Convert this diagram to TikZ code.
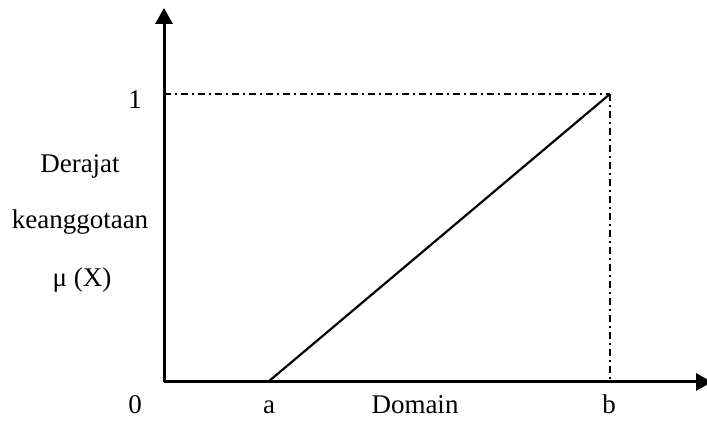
\documentclass[tikz,border=0pt]{standalone}
\usepackage{fontspec}
\setmainfont{Liberation Serif}
\usetikzlibrary{arrows.meta}

\begin{document}
\begin{tikzpicture}[x=0.5pt, y=0.5pt, line width=1.1pt,
  axis/.style={-{Triangle[length=8pt,width=8.5pt]}, line width=1.5pt},
  helpline/.style={line width=0.7pt, dash pattern=on 3.5pt off 2pt on 1pt off 2pt},
  lbl/.style={anchor=base, inner sep=0pt, font=\fontsize{13.5}{16}\selectfont}]
\useasboundingbox (0,0) rectangle (707,421);
\coordinate (O) at (164,39);
\coordinate (ytop) at (164,413);
\coordinate (xend) at (712,39);
\coordinate (one) at (164,327);
\coordinate (b) at (610,327);
\coordinate (bfoot) at (610,39);
\coordinate (a) at (268,39);

\draw [helpline] (one) -- (b);
\draw [helpline] (b) -- (bfoot);
\draw (a) -- (b);
\draw [axis] (O) -- (ytop);
\draw [axis] (O) -- (xend);

\node [lbl] (lone) at (135,312) {1};
\node [lbl] (lderajat) at (80,248) {Derajat};
\node [lbl] (lkeang) at (80,192) {keanggotaan};
\node [lbl] (lmu) at (82,134) {μ (X)};
\node [lbl] (lzero) at (135,7) {0};
\node [lbl] (la) at (269,7) {a};
\node [lbl] (ldomain) at (415,7) {Domain};
\node [lbl] (lb) at (609,7) {b};
\end{tikzpicture}
\end{document}
